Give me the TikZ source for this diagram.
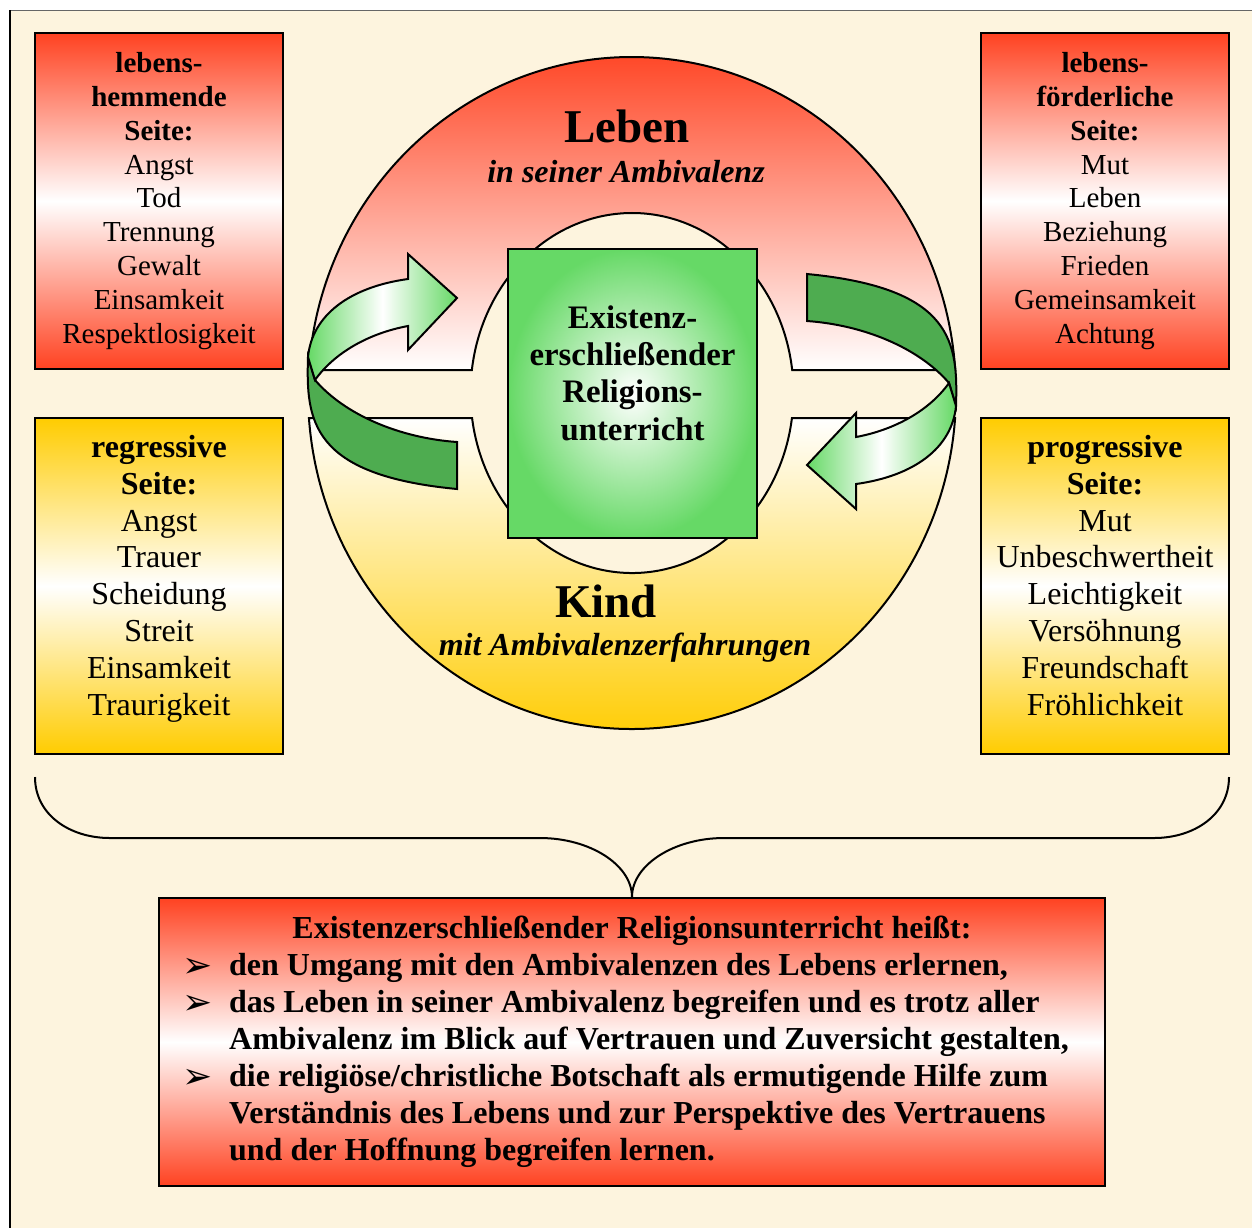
\documentclass[tikz,border=0pt]{standalone}
\usepackage{fontspec}
\setmainfont{Liberation Serif}
\newfontfamily\pfeilfont{DejaVu Sans}
\usepackage{tikz}
\usetikzlibrary{positioning}
\definecolor{papier}{RGB}{253,244,222}
\definecolor{rot}{RGB}{255,66,33}
\definecolor{gelb}{RGB}{255,204,0}
\definecolor{gruen}{RGB}{102,217,102}
\definecolor{dunkelgruen}{RGB}{78,172,80}
\tikzstyle{seite} = [draw,line width=1pt,minimum width=124pt,minimum height=168pt,inner sep=0pt,align=center]
\tikzstyle{rotseite} = [seite,top color=rot,bottom color=rot,middle color=white,font=\fontsize{14.5}{16.9}\selectfont]
\tikzstyle{gelbseite} = [seite,top color=gelb,bottom color=gelb,middle color=white,font=\fontsize{16}{18.4}\selectfont]
\tikzstyle{ring} = [draw,line width=1pt]
\tikzstyle{titel} = [font=\bfseries\fontsize{23.5}{28}\selectfont]
\tikzstyle{untertitel} = [font=\bfseries\itshape\fontsize{16}{19}\selectfont]
\newcommand{\pfeil}{\hspace*{-6.5pt}\raisebox{-1pt}{\pfeilfont\fontsize{18}{18}\selectfont ➢}}
% gelbe Seiten: Text etwas ueber der Mitte
\newcommand{\gelbtext}[1]{\parbox[c][168pt][c]{124pt}{\centering\strut #1\strut\par\vspace{7pt}}}

\begin{document}
\begin{tikzpicture}[x=0.5pt,y=-0.5pt]
\useasboundingbox (0,0) rectangle (1252,1228);
% Hintergrund und Rand
\fill[papier] (10,10) rectangle (1252,1228);
\draw[black!60,line width=0.5pt] (10,10) -- (1252,10);
\draw[line width=1pt] (10,10) -- (10,1228);

% Kreis: oben Leben, unten Kind
\shadedraw[ring,top color=rot,bottom color=white] (308.76,370)
  arc[start angle=183.925,end angle=356.075,x radius=324,y radius=336] -- (792.19,370)
  arc[start angle=352.659,end angle=187.341,x radius=161.5,y radius=180] -- cycle;
\shadedraw[ring,top color=white,bottom color=gelb] (308.93,418)
  arc[start angle=175.733,end angle=4.267,x radius=324,y radius=336] -- (791.94,418)
  arc[start angle=7.984,end angle=172.016,x radius=161.5,y radius=180] -- cycle;

\node[titel] (leben) at (627,126) {Leben};
\node[untertitel] (lebenambi) at (626,172) {in seiner Ambivalenz};
\node[titel] (kind) at (606,601) {Kind};
\node[untertitel] (kindambi) at (625,648) {mit Ambivalenzerfahrungen};

% Mitte
\node[draw,line width=1pt,inner color=white,outer color=gruen,minimum width=124.5pt,minimum height=144.5pt] (ru) at (632.5,393.5) {};
\node[align=center,font=\bfseries\fontsize{16.4}{18.7}\selectfont] (rutext) at (632.5,373) {Existenz-\\erschließender\\Religions-\\unterricht};

% Wendepfeile links und rechts
\foreach \w in {0,180}{
  \begin{scope}[rotate around={\w:(632,381.5)}]
    \filldraw[fill=dunkelgruen,draw=black,line width=1pt] (457,442) .. controls (400,438) and (345,415) .. (315,380)
      -- (308,357) .. controls (306,420) and (310,475) .. (457,489) -- cycle;
    \shadedraw[draw=black,line width=1pt,left color=gruen,right color=gruen,middle color=white] (308,357)
      .. controls (312,315) and (350,287) .. (408,279) -- (408,254) -- (457,298) -- (408,350) -- (408,326)
      .. controls (370,333) and (335,352) .. (315,380) -- cycle;
  \end{scope}
}

% Seiten
\node[rotseite] (hemmend) at (159,201) {\textbf{lebens-}\\\textbf{hemmende}\\\textbf{Seite:}\\Angst\\Tod\\Trennung\\Gewalt\\Einsamkeit\\Respektlosigkeit};
\node[gelbseite,below=23.5pt of hemmend] (regressiv) {\gelbtext{\textbf{regressive}\\\textbf{Seite:}\\Angst\\Trauer\\Scheidung\\Streit\\Einsamkeit\\Traurigkeit}};
\node[rotseite] (foerdernd) at (1105,201) {\textbf{lebens-}\\\textbf{förderliche}\\\textbf{Seite:}\\Mut\\Leben\\Beziehung\\Frieden\\Gemeinsamkeit\\Achtung};
\node[gelbseite,below=23.5pt of foerdernd] (progressiv) {\gelbtext{\textbf{progressive}\\\textbf{Seite:}\\Mut\\Unbeschwertheit\\Leichtigkeit\\Versöhnung\\Freundschaft\\Fröhlichkeit}};

% Zusammenfassung
\node[draw,line width=1pt,top color=rot,bottom color=rot,middle color=white,minimum width=473pt,minimum height=144pt,inner sep=0pt,
  font=\bfseries\fontsize{16}{18.5}\selectfont] (aufgabe) at (632,1042) {%
  \begin{tabular}{@{}p{17pt}@{}l@{}}
  \multicolumn{2}{@{}c@{}}{Existenzerschließender Religionsunterricht heißt:}\\
  \pfeil & den Umgang mit den Ambivalenzen des Lebens erlernen,\\
  \pfeil & das Leben in seiner Ambivalenz begreifen und es trotz aller\\
         & Ambivalenz im Blick auf Vertrauen und Zuversicht gestalten,\\
  \pfeil & die religiöse/christliche Botschaft als ermutigende Hilfe zum\\
         & Verständnis des Lebens und zur Perspektive des Vertrauens\\
         & und der Hoffnung begreifen lernen.
  \end{tabular}};

% Klammer
\coordinate (klammerL) at (35,777);
\coordinate (klammerR) at (1229,777);
\draw[line width=1pt] (klammerL) .. controls (35,815) and (70,838) .. (110,838) -- (540,838)
  .. controls (590,838) and (632,865) .. (aufgabe.north);
\draw[line width=1pt] (klammerR) .. controls (1229,815) and (1194,838) .. (1154,838) -- (724,838)
  .. controls (674,838) and (632,865) .. (aufgabe.north);
\end{tikzpicture}
\end{document}
